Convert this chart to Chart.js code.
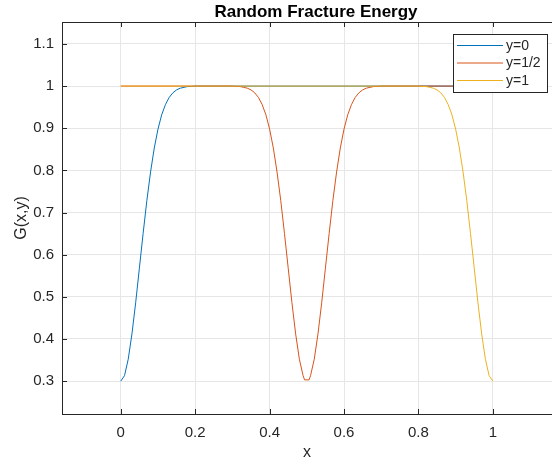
<!DOCTYPE html>
<html>
<head>
<meta charset="utf-8">
<script src="https://cdn.jsdelivr.net/npm/chart.js@4.4.0/dist/chart.umd.min.js"></script>
<style>
  html, body { margin: 0; padding: 0; background: #fff; overflow: hidden; }
  #fracture { display: block; }
</style>
</head>
<body>
<canvas id="fracture" width="552" height="464"></canvas>
<script>
// G(x,y), three slices in y
var labels = ["y=0", "y=1/2", "y=1"];
var colors = ["#0072BD", "#D95319", "#EDB120"];
var titleText = "Random Fracture Energy";

var x0 = [0, 0.01, 0.02, 0.03, 0.04, 0.05, 0.06, 0.07, 0.08, 0.09, 0.10,
          0.11, 0.12, 0.13, 0.14, 0.15, 0.16, 0.17, 0.18, 0.19, 0.20, 1];
var g0 = [0.300, 0.313, 0.352, 0.412, 0.486, 0.568, 0.650, 0.728, 0.796, 0.853, 0.898,
          0.932, 0.956, 0.973, 0.984, 0.991, 0.995, 0.997, 0.999, 0.999, 1.000, 1.000];

var xHalf = [0, 0.30, 0.31, 0.32, 0.33, 0.34, 0.35, 0.36, 0.37, 0.38, 0.39, 0.40,
             0.41, 0.42, 0.43, 0.44, 0.45, 0.46, 0.47, 0.48, 0.49, 0.494,
             0.506, 0.51, 0.52, 0.53, 0.54, 0.55, 0.56, 0.57, 0.58, 0.59, 0.60,
             0.61, 0.62, 0.63, 0.64, 0.65, 0.66, 0.67, 0.68, 0.69, 0.70, 1];
var gHalf = [1.000, 1.000, 0.999, 0.999, 0.997, 0.995, 0.991, 0.984, 0.973, 0.956, 0.932, 0.898,
             0.853, 0.796, 0.728, 0.650, 0.568, 0.486, 0.412, 0.352, 0.313, 0.303,
             0.303, 0.313, 0.352, 0.412, 0.486, 0.568, 0.650, 0.728, 0.796, 0.853, 0.898,
             0.932, 0.956, 0.973, 0.984, 0.991, 0.995, 0.997, 0.999, 0.999, 1.000, 1.000];

var x1 = [0, 0.80, 0.81, 0.82, 0.83, 0.84, 0.85, 0.86, 0.87, 0.88, 0.89, 0.90,
          0.91, 0.92, 0.93, 0.94, 0.95, 0.96, 0.97, 0.98, 0.99, 1.00];
var g1 = [1.000, 1.000, 0.999, 0.999, 0.997, 0.995, 0.991, 0.984, 0.973, 0.956, 0.932, 0.898,
          0.853, 0.796, 0.728, 0.650, 0.568, 0.486, 0.412, 0.352, 0.313, 0.300];

var xTicks = [0, 0.2, 0.4, 0.6, 0.8, 1];
var yTicks = [0.3, 0.4, 0.5, 0.6, 0.7, 0.8, 0.9, 1, 1.1];

function pts(xs, ys) {
  return xs.map(function (v, i) { return { x: v, y: ys[i] }; });
}

var FONT = "'Liberation Sans', Arial, Helvetica, sans-serif";
var AXIS = "#262626";

// matlab style: inward ticks, box on top, title over the (wider) axes, legend inside
var matlabAxes = {
  id: "matlabAxes",
  afterDatasetsDraw: function (chart) {
    var c = chart.ctx, a = chart.chartArea;
    var xs = chart.scales.x, ys = chart.scales.y;
    c.save();
    c.strokeStyle = AXIS;
    c.lineWidth = 1;
    c.beginPath();
    c.moveTo(a.left, a.top + 0.5);
    c.lineTo(a.right, a.top + 0.5);
    xTicks.forEach(function (t) {
      var px = Math.round(xs.getPixelForValue(t)) + 0.5;
      c.moveTo(px, a.bottom); c.lineTo(px, a.bottom - 5);
      c.moveTo(px, a.top); c.lineTo(px, a.top + 5);
    });
    yTicks.forEach(function (t) {
      var py = Math.round(ys.getPixelForValue(t)) + 0.5;
      c.moveTo(a.left, py); c.lineTo(a.left + 5, py);
    });
    c.stroke();

    // title, centred on the full axes box (it runs past the right edge)
    c.fillStyle = "#000";
    c.font = "bold 17px " + FONT;
    c.textAlign = "center";
    c.textBaseline = "middle";
    c.fillText(titleText, a.left + 254, a.top - 10);
    c.textAlign = "left";

    // legend
    var lx = a.left + 391, ly = a.top + 12, lw = 94, lh = 58;
    c.fillStyle = "#fff";
    c.fillRect(lx, ly, lw, lh);
    c.strokeStyle = AXIS;
    c.strokeRect(lx + 0.5, ly + 0.5, lw, lh);
    c.font = "14px " + FONT;
    chart.data.datasets.forEach(function (ds, i) {
      var ry = ly + 11 + i * 17.5;
      c.strokeStyle = ds.borderColor;
      c.beginPath();
      c.moveTo(lx + 4, ry + 0.5);
      c.lineTo(lx + 50, ry + 0.5);
      c.stroke();
      c.fillStyle = AXIS;
      c.fillText(ds.label, lx + 53, ry + 1);
    });
    c.restore();
  }
};

new Chart(document.getElementById("fracture"), {
  type: "line",
  data: {
    datasets: [
      { label: labels[0], data: pts(x0, g0), borderColor: colors[0], order: 2 },
      { label: labels[1], data: pts(xHalf, gHalf), borderColor: colors[1], order: 1 },
      { label: labels[2], data: pts(x1, g1), borderColor: colors[2], order: 0 }
    ]
  },
  options: {
    responsive: false,
    animation: false,
    layout: { padding: { top: 22, right: 0, bottom: 0, left: 0 } },
    elements: {
      point: { radius: 0 },
      line: { borderWidth: 1, tension: 0 }
    },
    plugins: {
      legend: { display: false },
      tooltip: { enabled: false },
      title: { display: false }
    },
    scales: {
      x: {
        type: "linear",
        min: -0.158,
        max: 1.159,
        afterBuildTicks: function (s) { s.ticks = xTicks.map(function (v) { return { value: v }; }); },
        afterFit: function (s) { s.height = 50; },
        ticks: {
          color: AXIS,
          font: { family: FONT, size: 15 },
          padding: 10,
          maxRotation: 0,
          callback: function (v) { return String(v); }
        },
        grid: { color: "#e6e6e6", drawTicks: false },
        border: { color: AXIS, width: 1 },
        title: {
          display: true,
          text: "x",
          color: AXIS,
          font: { family: FONT, size: 16 },
          padding: { top: 0, bottom: 2 }
        }
      },
      y: {
        type: "linear",
        min: 0.222,
        max: 1.152,
        afterBuildTicks: function (s) { s.ticks = yTicks.map(function (v) { return { value: v }; }); },
        afterFit: function (s) { s.width = 62; },
        ticks: {
          color: AXIS,
          font: { family: FONT, size: 15 },
          padding: 8,
          callback: function (v) { return String(v); }
        },
        grid: { color: "#e6e6e6", drawTicks: false },
        border: { color: AXIS, width: 1 },
        title: {
          display: true,
          text: "G(x,y)",
          color: AXIS,
          font: { family: FONT, size: 16 },
          padding: { top: 12, bottom: 0 }
        }
      }
    }
  },
  plugins: [matlabAxes]
});
</script>
</body>
</html>
